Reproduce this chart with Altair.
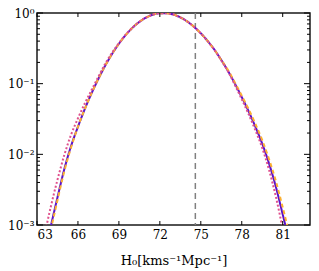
import altair as alt
import pandas as pd

# H0 grid (km/s/Mpc) and log10 of normalised posterior for each curve
h0 = [63.5, 64.0, 64.5, 65.0, 65.5, 66.0, 66.5, 67.0, 67.5, 68.0, 68.5, 69.0, 69.5, 70.0,
      70.5, 71.0, 71.5, 72.0, 72.5, 73.0, 73.5, 74.0, 74.5, 75.0, 75.5, 76.0, 76.5, 77.0,
      77.5, 78.0, 78.5, 79.0, 79.5, 80.0, 80.5, 81.0, 81.5, 82.0]

blue_log10 = [-3.50, -3.03, -2.61, -2.21, -1.88, -1.61, -1.36, -1.135, -0.93, -0.744, -0.579,
              -0.435, -0.311, -0.208, -0.126, -0.064, -0.023, -0.003, -0.003, -0.022, -0.062,
              -0.119, -0.195, -0.287, -0.396, -0.52, -0.665, -0.823, -1.0, -1.19, -1.39, -1.61,
              -1.85, -2.13, -2.46, -2.85, -3.25, -3.70]

orange_log10 = [-3.56, -3.08, -2.65, -2.24, -1.90, -1.61, -1.36, -1.135, -0.93, -0.744, -0.579,
                -0.435, -0.311, -0.208, -0.126, -0.064, -0.023, -0.003, -0.003, -0.022, -0.062,
                -0.119, -0.195, -0.287, -0.396, -0.52, -0.665, -0.81, -0.985, -1.17, -1.36, -1.57,
                -1.80, -2.07, -2.38, -2.75, -3.14, -3.55]

pink_log10 = [-3.19, -2.75, -2.36, -2.01, -1.72, -1.49, -1.28, -1.09, -0.90, -0.718, -0.562,
              -0.427, -0.306, -0.205, -0.124, -0.063, -0.022, -0.003, -0.003, -0.022, -0.062,
              -0.119, -0.196, -0.289, -0.399, -0.524, -0.671, -0.83, -1.02, -1.22, -1.43, -1.66,
              -1.91, -2.22, -2.60, -3.05, -3.50, -4.00]

series_names = ["blue", "orange", "pink"]
series_colors = ["#5b12c9", "#fbb031", "#e0508c"]

h0_reference = [74.6]

x_major_ticks = [63, 66, 69, 72, 75, 78, 81]
y_major_ticks = [1.0, 0.1, 0.01, 0.001]
y_minor_ticks = [m * 10.0 ** e for e in (-3, -2, -1) for m in range(2, 10)]

rows = []
for name, vals in zip(series_names, [blue_log10, orange_log10, pink_log10]):
    for x, v in zip(h0, vals):
        rows.append({"H0": x, "p": 10.0 ** v, "series": name})
df = pd.DataFrame(rows)

W, H = 273, 212
xscale = alt.Scale(domain=[63, 83], nice=False, zero=False)
yscale = alt.Scale(type="log", domain=[0.001, 1], nice=False)

FONT = "DejaVu Serif"

base_x = alt.X("H0:Q", scale=xscale,
               axis=alt.Axis(values=x_major_ticks, ticks=False, domain=False, grid=False,
                             labelFont=FONT, labelFontSize=12, labelColor="black",
                             labelPadding=4, title="H₀[kms⁻¹Mpc⁻¹]", titleFont=FONT,
                             titleFontSize=13, titleFontWeight="normal", titleColor="black",
                             titlePadding=14))
base_y = alt.Y("p:Q", scale=yscale,
               axis=alt.Axis(values=y_major_ticks, ticks=False, domain=False, grid=False,
                             labelFont=FONT, labelFontSize=12, labelColor="black",
                             labelPadding=3,
                             labelExpr="datum.value >= 0.5 ? '10⁰' : datum.value >= 0.05 ? '10⁻¹' : datum.value >= 0.005 ? '10⁻²' : '10⁻³'",
                             title=None))

def line(name, color, dash, width):
    return alt.Chart(df).transform_filter(alt.datum.series == name).mark_line(
        color=color, strokeWidth=width, strokeDash=dash, clip=True, interpolate="monotone"
    ).encode(x=base_x, y=base_y)

blue = line("blue", series_colors[0], [1, 0], 2.0)
orange = line("orange", series_colors[1], [4, 3], 2.0)
pink = line("pink", series_colors[2], [2, 2], 2.0)

vline = alt.Chart(pd.DataFrame({"H0": h0_reference})).mark_rule(
    color="#808080", strokeWidth=1.5, strokeDash=[6, 4]
).encode(x=alt.X("H0:Q", scale=xscale))

xt = pd.DataFrame({"H0": x_major_ticks})
xt_bottom = alt.Chart(xt).mark_rule(color="black", strokeWidth=1).encode(
    x=alt.X("H0:Q", scale=xscale), y=alt.value(H), y2=alt.value(H - 4))
xt_top = alt.Chart(xt).mark_rule(color="black", strokeWidth=1).encode(
    x=alt.X("H0:Q", scale=xscale), y=alt.value(0), y2=alt.value(4))

ymaj = pd.DataFrame({"p": y_major_ticks})
ymin = pd.DataFrame({"p": y_minor_ticks})
yt_left = alt.Chart(ymaj).mark_rule(color="black", strokeWidth=1).encode(
    y=alt.Y("p:Q", scale=yscale), x=alt.value(0), x2=alt.value(6))
yt_right = alt.Chart(ymaj).mark_rule(color="black", strokeWidth=1).encode(
    y=alt.Y("p:Q", scale=yscale), x=alt.value(W - 6), x2=alt.value(W))
ym_left = alt.Chart(ymin).mark_rule(color="black", strokeWidth=1).encode(
    y=alt.Y("p:Q", scale=yscale), x=alt.value(0), x2=alt.value(3))
ym_right = alt.Chart(ymin).mark_rule(color="black", strokeWidth=1).encode(
    y=alt.Y("p:Q", scale=yscale), x=alt.value(W - 3), x2=alt.value(W))

chart = alt.layer(
    vline, blue, orange, pink, xt_bottom, xt_top, yt_left, yt_right, ym_left, ym_right
).properties(
    width=W, height=H,
    autosize=alt.AutoSizeParams(type="none"),
    padding={"left": 29, "top": 5, "right": 1, "bottom": 46},
).configure_view(
    stroke="#1a1a1a", strokeWidth=1.5
).configure_axis(labelFont=FONT, titleFont=FONT)

chart.save("out.html", embed_options={"renderer": "svg", "actions": False})
